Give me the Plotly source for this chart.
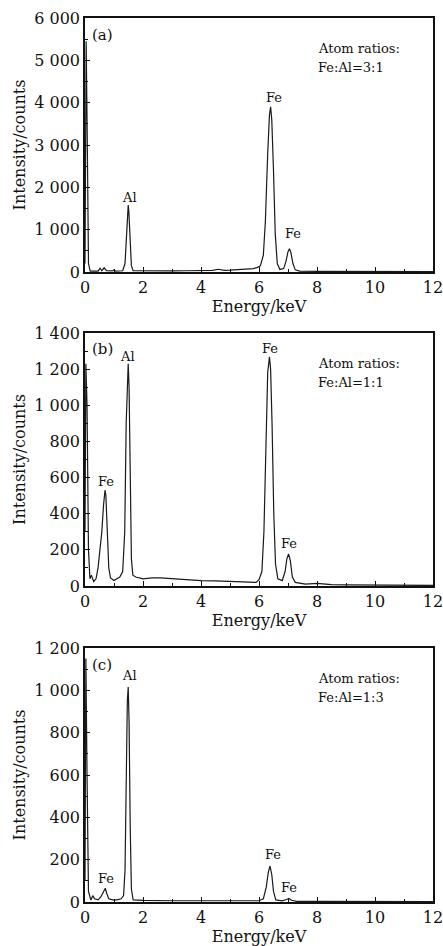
import plotly.graph_objects as go

# ---------------- data ----------------
energy_a = [0.0, 0.04, 0.08, 0.12, 0.18, 0.45, 0.52, 0.58, 0.66, 0.74, 0.95, 1.0, 1.05, 1.3, 1.38, 1.43,
            1.47, 1.49, 1.51, 1.55, 1.6, 1.66, 2.0, 2.5, 3.0, 3.5, 4.0, 4.4, 4.6, 4.8, 5.0, 5.2, 5.4,
            5.6, 5.8, 5.95, 6.05, 6.15, 6.22, 6.3, 6.36, 6.4, 6.44, 6.5, 6.56, 6.63, 6.72, 6.85, 6.93,
            7.0, 7.05, 7.1, 7.17, 7.25, 7.4, 8.0, 9.0, 10.0, 11.0, 12.0]
counts_a = [200, 5450, 3000, 200, 20, 20, 90, 30, 100, 30, 25, 50, 20, 30, 200, 900,
            1500, 1580, 1450, 800, 150, 30, 25, 20, 25, 30, 35, 40, 65, 40, 45, 50, 70,
            60, 80, 110, 150, 400, 1200, 2800, 3700, 3900, 3600, 2400, 900, 200, 60, 80, 250,
            480, 550, 460, 200, 50, 20, 15, 10, 10, 8, 8]

energy_b = [0.0, 0.03, 0.07, 0.12, 0.17, 0.22, 0.3, 0.38, 0.45, 0.52, 0.58, 0.64, 0.69, 0.72, 0.77,
            0.82, 0.88, 1.0, 1.1, 1.2, 1.3, 1.37, 1.42, 1.47, 1.49, 1.52, 1.56, 1.6, 1.65, 1.75, 2.0,
            2.3, 2.6, 3.0, 3.5, 4.0, 4.5, 5.0, 5.5, 5.9, 6.0, 6.1, 6.17, 6.23, 6.3, 6.36, 6.4, 6.45,
            6.51, 6.57, 6.65, 6.8, 6.9, 6.96, 7.02, 7.08, 7.15, 7.25, 7.6, 8.0, 8.5, 9.0, 10.0,
            11.0, 12.0]
counts_b = [300, 1230, 1000, 200, 40, 60, 25, 40, 100, 220, 300, 450, 530, 500, 300,
            100, 45, 30, 40, 50, 80, 300, 900, 1200, 1230, 1100, 600, 150, 60, 50, 40,
            45, 45, 40, 35, 30, 28, 25, 20, 20, 35, 80, 300, 800, 1180, 1268, 1200, 900,
            400, 120, 40, 30, 80, 150, 177, 140, 50, 20, 10, 15, 8, 6, 5,
            4, 3]

energy_c = [0.0, 0.03, 0.07, 0.12, 0.2, 0.27, 0.33, 0.45, 0.55, 0.64, 0.7, 0.75, 0.82, 0.95, 1.1,
            1.25, 1.33, 1.38, 1.42, 1.46, 1.49, 1.52, 1.56, 1.6, 1.66, 2.0, 3.0, 4.0, 5.0, 6.0,
            6.15, 6.25, 6.32, 6.38, 6.44, 6.5, 6.58, 6.8, 6.95, 7.03, 7.12, 7.3, 8.0, 12.0]
counts_c = [100, 1150, 600, 50, 10, 30, 15, 10, 25, 45, 65, 40, 15, 10, 10,
            15, 30, 150, 600, 950, 1016, 850, 350, 60, 10, 8, 6, 5, 5, 6,
            15, 70, 140, 170, 130, 50, 10, 5, 12, 17, 8, 3, 3, 2]

x_tickvals = [0, 2, 4, 6, 8, 10, 12]
x_ticktext = ["0", "2", "4", "6", "8", "10", "12"]
ya_tickvals = [0, 1000, 2000, 3000, 4000, 5000, 6000]
ya_ticktext = ["0", "1 000", "2 000", "3 000", "4 000", "5 000", "6 000"]
yb_tickvals = [0, 200, 400, 600, 800, 1000, 1200, 1400]
yb_ticktext = ["0", "200", "400", "600", "800", "1 000", "1 200", "1 400"]
yc_tickvals = [0, 200, 400, 600, 800, 1000, 1200]
yc_ticktext = ["0", "200", "400", "600", "800", "1 000", "1 200"]

panel_tags = ["(a)", "(b)", "(c)"]
ratio_texts = ["Fe:Al=3:1", "Fe:Al=1:1", "Fe:Al=1:3"]
# peak labels: (energy, counts, text)
peaks_a = [(1.55, 1770, "Al"), (6.52, 4130, "Fe"), (7.17, 900, "Fe")]
peaks_b = [(1.48, 1272, "Al"), (6.38, 1315, "Fe"), (0.73, 577, "Fe"), (7.03, 236, "Fe")]
peaks_c = [(1.52, 1071, "Al"), (6.47, 225, "Fe"), (0.71, 112, "Fe"), (7.03, 68, "Fe")]

# ---------------- figure ----------------
FONT = "DejaVu Serif"
W, H = 443, 946
ML, MR, MT, MB = 85, W - 433, 18, H - 902
PH = H - MT - MB

def ydom(top_px, bot_px):
    return [(H - MB - bot_px) / PH, (H - MB - top_px) / PH]

domains = [ydom(18, 272), ydom(333, 586), ydom(648, 902)]
ranges = [[0, 6000], [0, 1400], [0, 1200]]
ytv = [ya_tickvals, yb_tickvals, yc_tickvals]
ytt = [ya_ticktext, yb_ticktext, yc_ticktext]
ydt = [500, 100, 100]
series = [(energy_a, counts_a), (energy_b, counts_b), (energy_c, counts_c)]
peaks = [peaks_a, peaks_b, peaks_c]

fig = go.Figure()
layout = dict(
    width=W, height=H,
    margin=dict(l=ML, r=MR, t=MT, b=MB),
    paper_bgcolor="white", plot_bgcolor="white",
    showlegend=False,
    font=dict(family=FONT, color="#111", size=16),
)
annotations = []
for i in range(3):
    sfx = "" if i == 0 else str(i + 1)
    xs, ys = series[i]
    fig.add_trace(go.Scatter(x=xs, y=ys, mode="lines",
                             line=dict(color="#1a1a1a", width=1.2),
                             xaxis="x" + sfx, yaxis="y" + sfx, hoverinfo="skip"))
    layout["xaxis" + sfx] = dict(
        domain=[0, 1], anchor="y" + sfx, range=[0, 12], automargin=False,
        tickvals=x_tickvals, ticktext=x_ticktext, ticklabeloverflow="allow",
        ticks="inside", ticklen=5, tickwidth=1.2, tickcolor="#111",
        minor=dict(ticks="inside", ticklen=3, dtick=1, tickwidth=1, tickcolor="#111"),
        showline=True, linecolor="#111", linewidth=1.5, mirror=True,
        showgrid=False, zeroline=False,
        tickfont=dict(size=16, family=FONT),
        title=dict(text="Energy/keV", font=dict(size=16, family=FONT), standoff=0),
    )
    layout["yaxis" + sfx] = dict(
        domain=domains[i], anchor="x" + sfx, range=ranges[i], automargin=False,
        tickvals=ytv[i], ticktext=ytt[i], ticklabeloverflow="allow",
        ticks="inside", ticklen=5, tickwidth=1.2, tickcolor="#111",
        minor=dict(ticks="inside", ticklen=3, dtick=ydt[i], tickwidth=1, tickcolor="#111"),
        showline=True, linecolor="#111", linewidth=1.5, mirror=True,
        showgrid=False, zeroline=False,
        tickfont=dict(size=16, family=FONT),
        title=dict(text="Intensity/counts", font=dict(size=16, family=FONT), standoff=5),
    )
    xr = "x" + sfx
    yr = "y" + sfx
    annotations.append(dict(xref=xr + " domain", yref=yr + " domain", x=0.015, y=0.935,
                            xanchor="left", yanchor="middle", text=panel_tags[i],
                            showarrow=False, font=dict(size=15, family=FONT)))
    annotations.append(dict(xref=xr + " domain", yref=yr + " domain", x=0.665, y=0.88,
                            xanchor="left", yanchor="middle", text="Atom ratios:",
                            showarrow=False, font=dict(size=13, family=FONT)))
    annotations.append(dict(xref=xr + " domain", yref=yr + " domain", x=0.665, y=0.805,
                            xanchor="left", yanchor="middle", text=ratio_texts[i],
                            showarrow=False, font=dict(size=13, family=FONT)))
    for (px, py, t) in peaks[i]:
        annotations.append(dict(xref=xr, yref=yr, x=px, y=py, text=t, showarrow=False,
                                xanchor="center", yanchor="middle",
                                font=dict(size=13, family=FONT)))
layout["annotations"] = annotations
fig.update_layout(**layout)
fig.write_html("out.html", config={"displayModeBar": False},
               post_script="document.body.style.margin='0';document.body.style.overflow='hidden';")
